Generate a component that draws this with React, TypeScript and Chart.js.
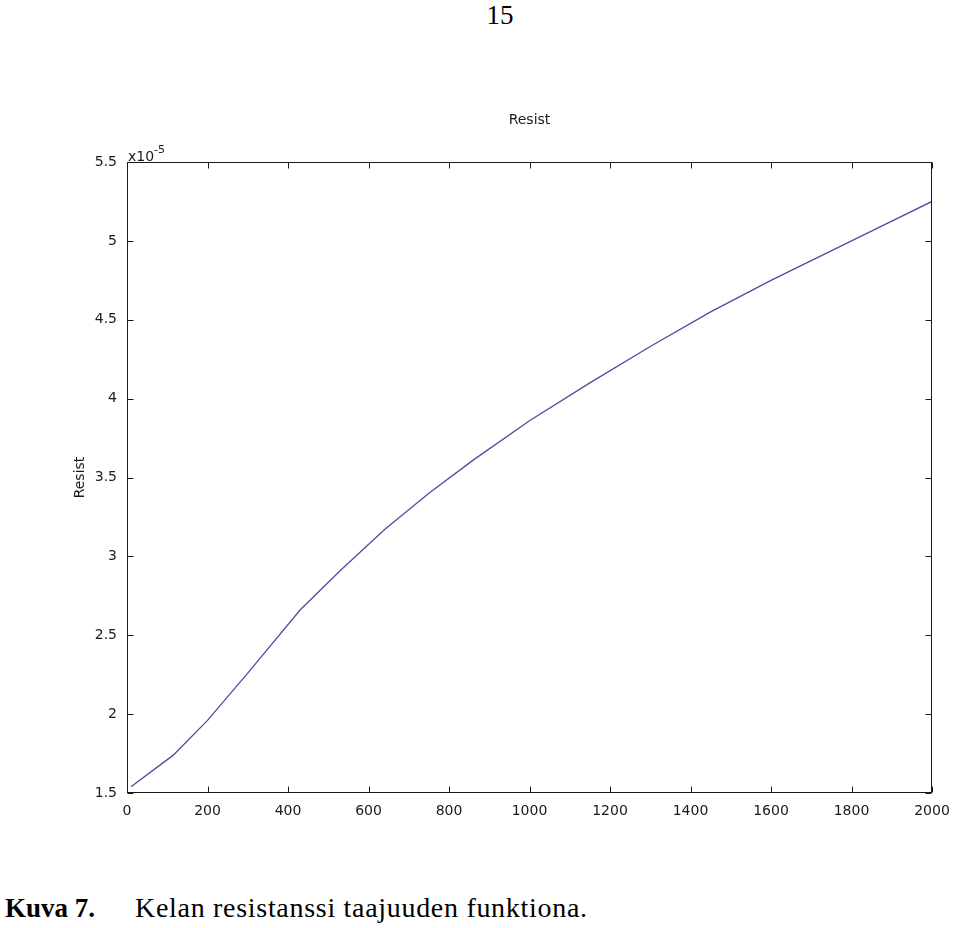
import React, { useEffect, useRef } from "react";
import { Chart, registerables } from "chart.js";

Chart.register(...registerables);

// Frequency (Hz) and coil resistance (×10^-5)
const frequencies = [10, 115, 200, 300, 430, 530, 640, 750, 860, 1000, 1150, 1300, 1450, 1600, 1800, 2000];
const resistance = [1.54, 1.74, 1.96, 2.26, 2.66, 2.91, 3.17, 3.40, 3.61, 3.86, 4.10, 4.33, 4.55, 4.75, 5.0, 5.25];
const xTicks = [0, 200, 400, 600, 800, 1000, 1200, 1400, 1600, 1800, 2000];
const yTicks = [1.5, 2, 2.5, 3, 3.5, 4, 4.5, 5, 5.5];
const chartTitle = "Resist";
const yLabel = "Resist";
const exponentBase = "x10";
const exponentPow = "-5";
const pageNumber = "15";
const captionLabel = "Kuva 7.";
const captionText = "Kelan resistanssi taajuuden funktiona.";

const FONT = "'DejaVu Sans', sans-serif";

const framePlugin = {
  id: "matlabFrame",
  afterDatasetsDraw(chart: any) {
    const { ctx, chartArea, scales } = chart;
    const { left, right, top, bottom } = chartArea;
    const x = scales.x;
    const y = scales.y;
    ctx.save();
    ctx.strokeStyle = "#1a1a1a";
    ctx.lineWidth = 1;
    const L = Math.round(left) + 0.5;
    const R = Math.round(right) - 0.5;
    const T = Math.round(top) + 0.5;
    const B = Math.round(bottom) - 0.5;
    ctx.strokeRect(L, T, R - L, B - T);
    const tl = 6;
    ctx.beginPath();
    xTicks.forEach((v) => {
      const px = Math.round(x.getPixelForValue(v)) + 0.5;
      ctx.moveTo(px, B);
      ctx.lineTo(px, B - tl);
      ctx.moveTo(px, T);
      ctx.lineTo(px, T + tl);
    });
    yTicks.forEach((v) => {
      const py = Math.round(y.getPixelForValue(v)) + 0.5;
      ctx.moveTo(L, py);
      ctx.lineTo(L + tl, py);
      ctx.moveTo(R, py);
      ctx.lineTo(R - tl, py);
    });
    ctx.stroke();

    ctx.fillStyle = "#1a1a1a";
    ctx.font = `14px ${FONT}`;
    ctx.textAlign = "center";
    ctx.textBaseline = "middle";
    ctx.fillText(chartTitle, (left + right) / 2, 120);
    ctx.save();
    ctx.translate(80, (top + bottom) / 2);
    ctx.rotate(-Math.PI / 2);
    ctx.fillText(yLabel, 0, 0);
    ctx.restore();
    ctx.textAlign = "left";
    ctx.textBaseline = "alphabetic";
    ctx.font = `14px ${FONT}`;
    ctx.fillText(exponentBase, left + 1, top - 1);
    const w = ctx.measureText(exponentBase).width;
    ctx.font = `11px ${FONT}`;
    ctx.fillText(exponentPow, left + 1 + w, top - 9);
    ctx.restore();
  },
};

export default function App() {
  const canvasRef = useRef<HTMLCanvasElement | null>(null);

  useEffect(() => {
    document.body.style.margin = "0";
    const canvas = canvasRef.current;
    if (!canvas) return;
    const H = 840;
    const chart = new Chart(canvas, {
      type: "line",
      data: {
        datasets: [
          {
            data: frequencies.map((f, i) => ({ x: f, y: resistance[i] })),
            borderColor: "#4d4d9e",
            borderWidth: 1.3,
            pointRadius: 0,
            tension: 0,
            fill: false,
          },
        ],
      },
      options: {
        responsive: false,
        animation: false,
        devicePixelRatio: 1,
        layout: { padding: { top: 162, right: 28, left: 0, bottom: 0 } },
        plugins: {
          legend: { display: false },
          title: { display: false },
          tooltip: { enabled: false },
        },
        scales: {
          x: {
            type: "linear",
            min: 0,
            max: 2000,
            afterBuildTicks: (scale: any) => {
              scale.ticks = xTicks.map((v) => ({ value: v }));
            },
            afterFit: (scale: any) => {
              scale.height = H - 793;
            },
            grid: { display: false, drawTicks: false },
            border: { display: false },
            ticks: {
              padding: 10,
              maxRotation: 0,
              autoSkip: false,
              color: "#1a1a1a",
              font: { family: FONT, size: 14 },
              callback: (v: any) => String(v),
            },
          },
          y: {
            type: "linear",
            min: 1.5,
            max: 5.5,
            afterBuildTicks: (scale: any) => {
              scale.ticks = yTicks.map((v) => ({ value: v }));
            },
            afterFit: (scale: any) => {
              scale.width = 127;
            },
            grid: { display: false, drawTicks: false },
            border: { display: false },
            ticks: {
              padding: 10,
              autoSkip: false,
              color: "#1a1a1a",
              font: { family: FONT, size: 14 },
              callback: (v: any) => String(v),
            },
          },
        },
      },
      plugins: [framePlugin],
    });
    return () => chart.destroy();
  }, []);

  const serif = "'Liberation Serif', 'Times New Roman', serif";
  return (
    <div style={{ position: "relative", width: 960, height: 928, background: "#fff", overflow: "hidden" }}>
      <div
        style={{
          position: "absolute",
          top: 2,
          left: 0,
          width: 1000,
          textAlign: "center",
          fontFamily: serif,
          fontSize: 27,
          lineHeight: "27px",
          color: "#000",
        }}
      >
        {pageNumber}
      </div>
      <canvas ref={canvasRef} width={960} height={840} style={{ position: "absolute", top: 0, left: 0, display: "block" }} />
      <div
        style={{
          position: "absolute",
          top: 895,
          left: 5,
          fontFamily: serif,
          fontSize: 27,
          lineHeight: "27px",
          fontWeight: "bold",
          color: "#000",
          whiteSpace: "nowrap",
        }}
      >
        {captionLabel}
      </div>
      <div
        style={{
          position: "absolute",
          top: 894,
          left: 135,
          fontFamily: serif,
          fontSize: 28,
          lineHeight: "28px",
          letterSpacing: "0.7px",
          color: "#000",
          whiteSpace: "nowrap",
        }}
      >
        {captionText}
      </div>
    </div>
  );
}
